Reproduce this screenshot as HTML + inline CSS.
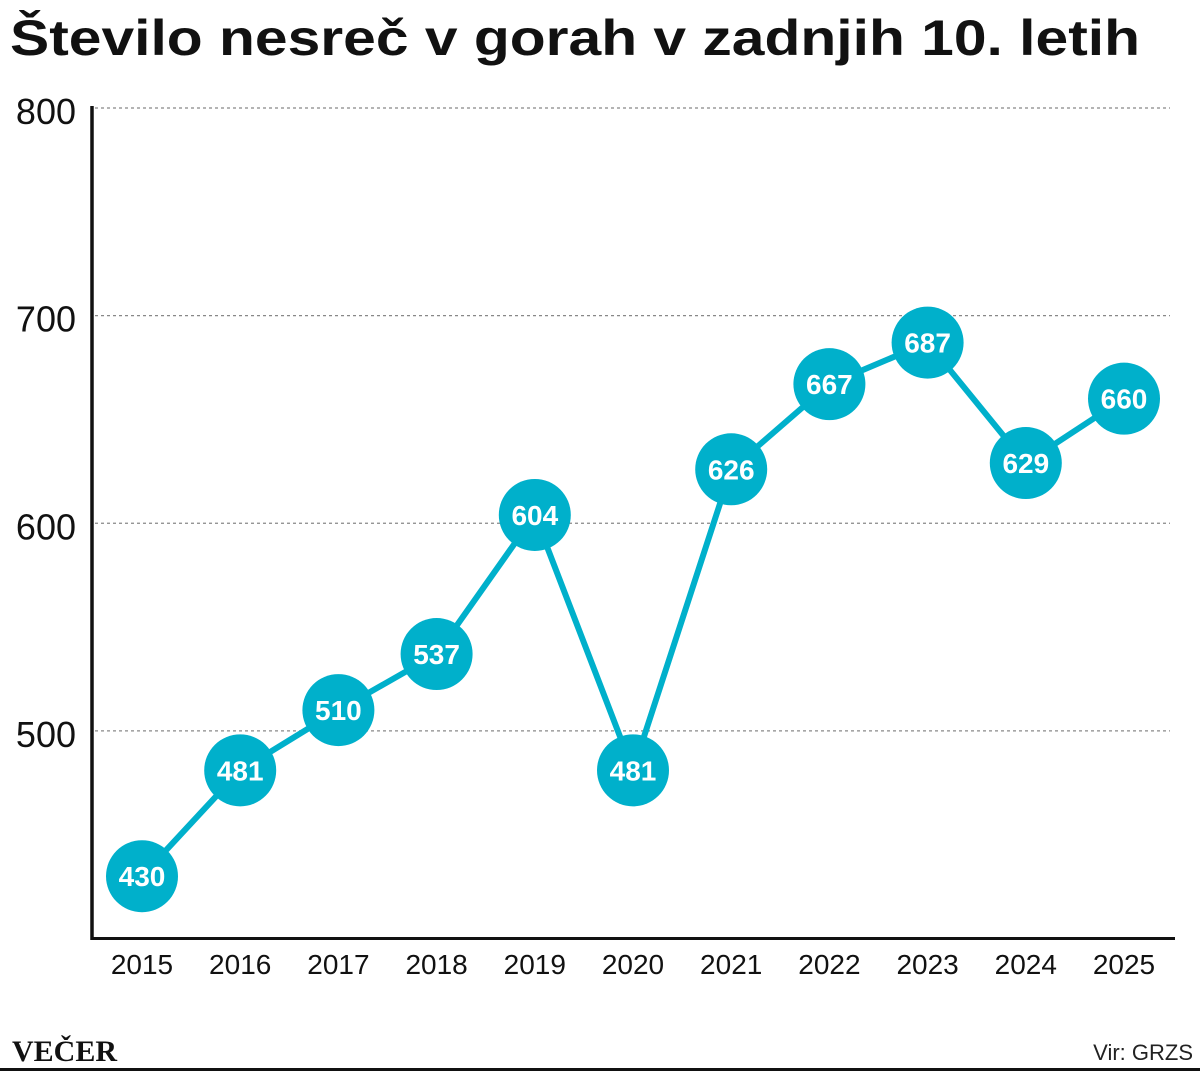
<!DOCTYPE html>
<html><head><meta charset="utf-8"><style>
body{margin:0;background:#fff;}
svg{display:block;font-family:"Liberation Sans",sans-serif;}
</style></head><body>
<svg id="chart" width="1200" height="1078" viewBox="0 0 1200 1078">
<text x="10" y="55" font-size="50" font-weight="bold" textLength="1130" lengthAdjust="spacingAndGlyphs" fill="#111">Število nesreč v gorah v zadnjih 10. letih</text>
<g id="grid"></g>
<g id="axes"></g>
<g id="series"></g>
<text x="12" y="1061" font-size="30" font-weight="bold" font-family="'Liberation Serif',serif" fill="#111">VEČER</text>
<text x="1193" y="1060" font-size="22" text-anchor="end" fill="#222">Vir: GRZS</text>
<rect x="0" y="1068" width="1200" height="3" fill="#111"></rect>
</svg>
<script>
const years=["2015","2016","2017","2018","2019","2020","2021","2022","2023","2024","2025"];
const values=[430,481,510,537,604,481,626,667,687,629,660];
const yTicks=[500,600,700,800];
{
const NS="http://www.w3.org/2000/svg";
const yMin=400,yMax=800,plotTop=108,plotBot=938.5;
const y=v=>plotBot-(v-yMin)/(yMax-yMin)*(plotBot-plotTop);
const x=i=>142+i*98.2;
function mk(tag,attrs,parent,txt){const e=document.createElementNS(NS,tag);for(const k in attrs)e.setAttribute(k,attrs[k]);if(txt!==undefined)e.textContent=txt;parent.appendChild(e);return e;}
const grid=document.getElementById('grid'),axes=document.getElementById('axes'),ser=document.getElementById('series');
yTicks.forEach(t=>{
 const l=mk('line',{x1:95,x2:1170,y1:y(t),y2:y(t),stroke:'#888','stroke-width':1.3,'stroke-dasharray':'3,3'},grid);
 
 
 const tx=mk('text',{x:76,y:y(t)+16,'font-size':36,'text-anchor':'end',fill:'#111'},axes,t);
 
 
});
const ya=mk('line',{x1:92,x2:92,y1:plotTop-2,y2:plotBot+1.5,stroke:'#111','stroke-width':3.5},axes);


const xa=mk('line',{x1:90.5,x2:1175,y1:plotBot,y2:plotBot,stroke:'#111','stroke-width':3},axes);


years.forEach((yr,i)=>{
 const t=mk('text',{x:x(i),y:974,'font-size':28,'text-anchor':'middle',fill:'#111'},axes,yr);
 
 
});
const pl=mk('polyline',{points:values.map((v,i)=>x(i)+','+y(v)).join(' '),fill:'none',stroke:'#00b0cb','stroke-width':6,'stroke-linejoin':'round'},ser);


values.forEach((v,i)=>{
 const c=mk('circle',{cx:x(i),cy:y(v),r:36,fill:'#00b0cb'},ser);
 
 
 const t=mk('text',{x:x(i),y:y(v)+10,'font-size':28,'font-weight':'bold','text-anchor':'middle',fill:'#fff'},ser,v);
 
 
});
}
</script>
</body></html>
